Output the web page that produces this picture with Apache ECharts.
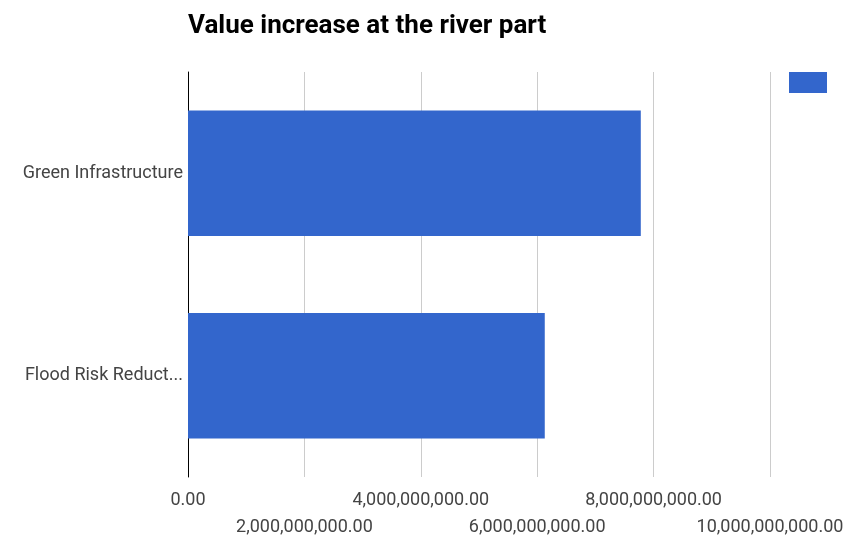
<!DOCTYPE html>
<html lang="en">
<head>
    <meta charset="UTF-8">
    <title>Value increase at the river part</title>
</head>
<body style="margin:0">
    <div id="main" style="width: 850px;height:541px;"></div>
</body>
</html>
<script src="https://cdn.jsdelivr.net/npm/echarts@6/dist/echarts.min.js"></script>
<script type="text/javascript">
    const categories = ['Flood Risk Reduction', 'Green Infrastructure'];
    const values = [6130000000, 7780000000];
    const ticks = [0, 2000000000, 4000000000, 6000000000, 8000000000, 10000000000];

    const font = 'Roboto, sans-serif';
    const chart = echarts.init(document.getElementById('main'));

    const fmt = v => v.toLocaleString('en-US', { minimumFractionDigits: 2, maximumFractionDigits: 2 });

    // two stacked rows of tick labels: even ticks on top, odd ones below
    function xAxisRow(odd, margin) {
        return {
            type: 'value',
            position: 'bottom',
            min: ticks[0],
            max: ticks[ticks.length - 1],
            interval: ticks[1] - ticks[0],
            axisLine: { show: false },
            axisTick: { show: false },
            splitLine: { show: !odd, lineStyle: { color: '#cccccc' } },
            axisLabel: {
                margin: margin,
                showMinLabel: true,
                showMaxLabel: true,
                fontFamily: font,
                fontSize: 18,
                color: '#444',
                formatter: (v, i) => (i % 2 === (odd ? 1 : 0)) ? fmt(v) : ''
            }
        };
    }

    chart.setOption({
        title: {
            text: 'Value increase at the river part',
            left: 183,
            top: 8,
            textStyle: {
                fontFamily: font,
                fontSize: 26,
                fontWeight: 'bold',
                color: '#000'
            }
        },
        legend: {
            left: 784,
            top: 67,
            itemWidth: 38,
            itemHeight: 21,
            icon: 'rect',
            formatter: () => '',
            data: ['value']
        },
        grid: {
            left: 188,
            right: 80,
            top: 72,
            bottom: 64,
            outerBoundsMode: 'none'
        },
        xAxis: [xAxisRow(false, 14), xAxisRow(true, 41)],
        yAxis: {
            type: 'category',
            data: categories,
            axisTick: { show: false },
            axisLine: { lineStyle: { color: '#000' } },
            axisLabel: {
                margin: 5,
                width: 164,
                overflow: 'truncate',
                fontFamily: font,
                fontSize: 18,
                color: '#444'
            }
        },
        series: [{
            name: 'value',
            type: 'bar',
            data: values,
            barCategoryGap: '38%',
            itemStyle: { color: '#3366cc' }
        }]
    });
</script>
